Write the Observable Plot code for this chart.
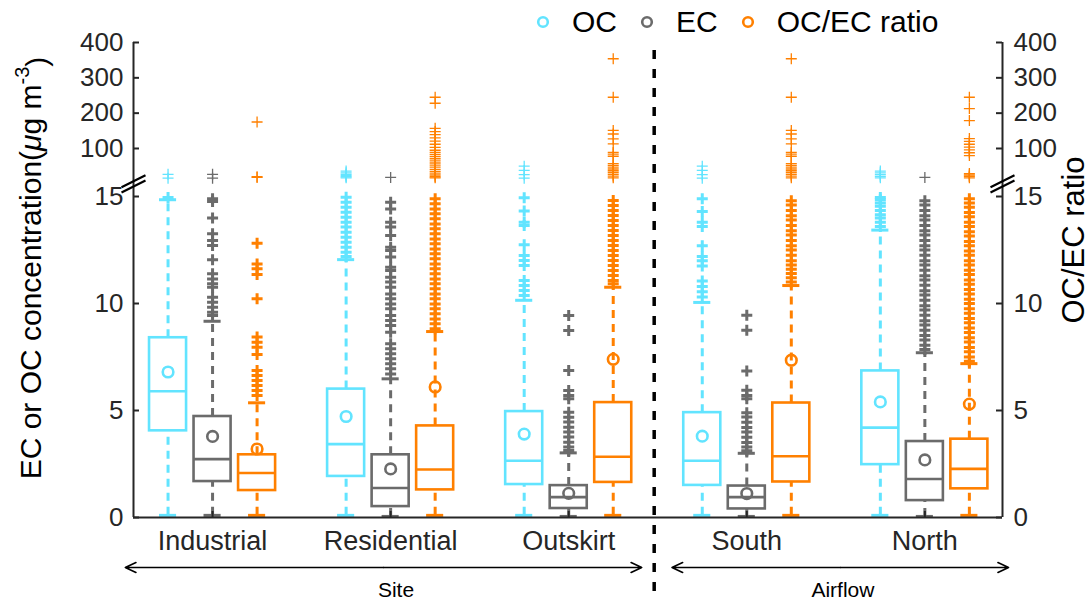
<!DOCTYPE html>
<html><head><meta charset="utf-8">
<script src="https://cdn.jsdelivr.net/npm/d3@7"></script>
<script src="https://cdn.jsdelivr.net/npm/@observablehq/plot@0.6"></script>
<style>
body{margin:0;background:#fff;font-family:"Liberation Sans",Arial,Helvetica,sans-serif;}
#wrap{position:relative;width:1091px;height:601px;}
#legend{position:absolute;top:0;left:536px;height:44px;display:flex;align-items:center;font-size:30px;color:#000;}
</style></head><body><div id="wrap"><div id="legend"></div></div>
<script>
// ---------------- data ----------------
const groups = ["Industrial", "Residential", "Outskirt", "South", "North"];
const seriesNames = ["OC", "EC", "OC/EC ratio"];
const seriesColors = ["#62e4ff", "#6b6b6b", "#ff8000"];

const leftTicksLower = [0, 5, 10, 15];
const leftTicksUpper = [100, 200, 300, 400];

// OC
const ocLow  = [0.1, 0.1, 0.1, 0.1, 0.1];
const ocQ1   = [4.05, 1.92, 1.54, 1.50, 2.47];
const ocMed  = [5.90, 3.43, 2.65, 2.65, 4.20];
const ocQ3   = [8.40, 6.00, 4.95, 4.90, 6.85];
const ocHigh = [14.85, 12.05, 10.15, 10.05, 13.43];
const ocMean = [6.80, 4.72, 3.90, 3.80, 5.40];
const ocOut = [
  [14.95, 16, 27],
  [12.2, 12.4, 12.63, 12.86, 13.1, 13.33, 13.57, 13.8, 14.03, 14.27, 14.5, 14.73, 14.97, 17, 20, 23, 27, 31, 36],
  [10.37, 10.61, 10.84, 11.08, 11.78, 12.01, 12.24, 12.74, 13.65, 13.8, 14.32, 14.94, 16, 26, 38, 50],
  [10.3, 10.55, 10.8, 11.05, 11.75, 12.0, 12.2, 12.7, 13.6, 13.8, 14.3, 14.9, 16, 26, 38, 50],
  [13.6, 13.8, 14.0, 14.15, 14.35, 14.55, 14.7, 14.85, 14.95, 17, 21, 26, 31, 36]
];
// EC
const ecLow  = [0.1, 0.05, 0.05, 0.05, 0.05];
const ecQ1   = [1.68, 0.51, 0.42, 0.40, 0.79];
const ecMed  = [2.73, 1.38, 0.95, 0.95, 1.80];
const ecQ3   = [4.72, 2.93, 1.49, 1.47, 3.55];
const ecHigh = [9.17, 6.48, 3.02, 3.00, 7.70];
const ecMean = [3.79, 2.27, 1.13, 1.12, 2.69];
const ecOut = [
  [9.44, 9.59, 9.83, 10.06, 10.29, 10.76, 10.92, 11.15, 11.39, 12.04, 12.71, 12.94, 13.26, 14.0, 14.77, 14.9, 16, 27],
  [6.71, 6.95, 7.18, 7.42, 7.65, 7.88, 8.12, 8.66, 8.97, 9.21, 9.44, 9.75, 9.98, 10.22, 10.45, 10.76, 11.0, 11.23, 11.54, 11.7, 12.17, 12.48, 12.63, 13.18, 13.57, 13.8, 14.42, 14.73, 18],
  [3.13, 3.29, 3.52, 3.76, 3.99, 4.22, 4.46, 4.69, 4.92, 5.55, 5.7, 5.94, 6.87, 8.74, 9.44],
  [3.12, 3.3, 3.5, 3.75, 4.0, 4.2, 4.45, 4.7, 4.9, 5.55, 5.7, 5.95, 6.85, 8.75, 9.45],
  [7.85, 8.05, 8.3, 8.5, 8.75, 9.0, 9.2, 9.45, 9.7, 9.9, 10.15, 10.4, 10.6, 10.85, 11.1, 11.3, 11.55, 11.8, 12.0, 12.25, 12.5, 12.7, 12.95, 13.2, 13.4, 13.65, 13.9, 14.1, 14.35, 14.6, 14.8, 18]
];
// OC/EC ratio
const rLow  = [0.1, 0.1, 0.1, 0.1, 0.1];
const rQ1   = [1.26, 1.29, 1.64, 1.66, 1.34];
const rMed  = [2.08, 2.24, 2.84, 2.86, 2.27];
const rQ3   = [2.93, 4.28, 5.37, 5.35, 3.66];
const rHigh = [5.36, 8.69, 10.76, 10.84, 7.19];
const rMean = [3.20, 6.10, 7.39, 7.35, 5.30];
const rOut = [
  [5.7, 5.93, 6.17, 6.4, 6.64, 6.87, 7.62, 7.96, 8.19, 8.43, 10.22, 11.36, 11.62, 11.85, 12.82, 18, 20, 175],
  [8.82, 9.05, 9.28, 9.52, 9.75, 9.98, 10.22, 10.45, 10.69, 10.92, 11.15, 11.39, 11.62, 11.85, 12.09, 12.32, 12.55, 12.79, 13.02, 13.26, 13.49, 13.72, 13.96, 14.19, 14.42, 14.66, 14.89, 17, 20, 25, 30, 35, 41, 47, 53, 59, 65, 71, 77, 83, 89, 95, 103, 112, 121, 130, 139, 148, 157, 228, 245],
  [10.92, 11.08, 11.31, 11.54, 11.78, 12.01, 12.24, 12.48, 12.71, 12.95, 13.18, 13.41, 13.65, 13.88, 14.11, 14.35, 14.58, 14.81, 17, 22, 27, 32, 37, 42, 47, 52, 57, 78, 84, 89, 113, 127, 141, 151, 245, 354],
  [11.0, 11.2, 11.4, 11.6, 11.8, 12.0, 12.25, 12.5, 12.7, 12.95, 13.2, 13.4, 13.65, 13.9, 14.1, 14.35, 14.6, 14.8, 17, 22, 27, 32, 37, 42, 47, 52, 57, 78, 84, 89, 113, 127, 141, 151, 245, 354],
  [7.3, 7.5, 7.75, 7.95, 8.2, 8.4, 8.65, 8.85, 9.1, 9.3, 9.55, 9.75, 10.0, 10.2, 10.45, 10.65, 10.9, 11.1, 11.35, 11.55, 11.8, 12.0, 12.25, 12.45, 12.7, 12.9, 13.15, 13.35, 13.6, 13.8, 14.05, 14.25, 14.5, 14.7, 14.9, 17, 21, 25, 29, 80, 88, 96, 104, 112, 120, 128, 179, 213, 245]
];

// sections under the axis
const sectionNames = ["Site", "Airflow"];
const sectionFrom  = [-0.49, 2.58];
const sectionTo    = [2.41, 4.47];
const sectionLabelX = [1.03, 3.54];
const dividerX = 2.48;

// ---------------- build ----------------
// broken axis: 0–15 linear below, 0–400 compressed above the break
const BREAK = 15, U0 = 15.593, K = 0.01651;
const yt = v => v <= BREAK ? v : U0 + K * v;
const yInv = u => u <= BREAK + 1e-6 ? u : Math.round((u - U0) / K);

const stats = [
  {low: ocLow, q1: ocQ1, med: ocMed, q3: ocQ3, high: ocHigh, mean: ocMean, out: ocOut},
  {low: ecLow, q1: ecQ1, med: ecMed, q3: ecQ3, high: ecHigh, mean: ecMean, out: ecOut},
  {low: rLow, q1: rQ1, med: rMed, q3: rQ3, high: rHigh, mean: rMean, out: rOut}
];
const xOff = [-0.25, 0, 0.25];
const BOXW = 0.104, CAPW = 0.048;
const rows = [];
stats.forEach((s, j) => groups.forEach((g, i) => rows.push({
  x: i + xOff[j], color: seriesColors[j],
  low: s.low[i], q1: s.q1[i], med: s.med[i], q3: s.q3[i], high: s.high[i], mean: s.mean[i], out: s.out[i]
})));
const outliers = rows.flatMap(r => r.out.map(v => ({x: r.x, v, y: yt(v), color: r.color})));

const xDomain = [-0.444, 4.436];
const leftTicks = [...leftTicksLower.map(yt), ...leftTicksUpper.map(yt)];
const sections = sectionNames.map((n, k) => ({name: n, from: sectionFrom[k], to: sectionTo[k], mid: (sectionFrom[k] + sectionTo[k]) / 2, lx: sectionLabelX[k]}));

const breakSymbol = {draw(ctx) { for (const o of [-2.6, 2.6]) { ctx.moveTo(-12, 6 + o); ctx.lineTo(12, -6 + o); } }};
const plusSymbol = {draw(ctx) { ctx.moveTo(-5.5, 0); ctx.lineTo(5.5, 0); ctx.moveTo(0, -5.5); ctx.lineTo(0, 5.5); }};
const AX = "#262626";
const font = "Liberation Sans, Arial, Helvetica, sans-serif";

const chart = Plot.plot({
  width: 1091, height: 601,
  marginLeft: 133, marginRight: 89, marginTop: 42, marginBottom: 84,
  x: {domain: xDomain, label: null},
  y: {domain: [0, yt(400)], label: null},
  color: {type: "identity"},
  style: {fontFamily: font, background: "white", overflow: "visible"},
  marks: [
    // divider between Site and Airflow
    Plot.ruleX([dividerX], {stroke: "black", strokeWidth: 3.5, strokeDasharray: "9,10", insetTop: 8, insetBottom: -84}),
    // whiskers
    Plot.ruleX(rows, {x: "x", y1: "q3", y2: "high", stroke: "color", strokeWidth: 3, strokeDasharray: "8,6"}),
    Plot.ruleX(rows, {x: "x", y1: "low", y2: "q1", stroke: "color", strokeWidth: 3, strokeDasharray: "8,6"}),
    Plot.ruleY(rows, {y: "high", x1: d => d.x - CAPW, x2: d => d.x + CAPW, stroke: "color", strokeWidth: 3}),
    Plot.ruleY(rows, {y: "low", x1: d => d.x - CAPW, x2: d => d.x + CAPW, stroke: "color", strokeWidth: 3}),
    // boxes
    Plot.rect(rows, {x1: d => d.x - BOXW, x2: d => d.x + BOXW, y1: "q1", y2: "q3", fill: "none", stroke: "color", strokeWidth: 2.6}),
    Plot.ruleY(rows, {y: "med", x1: d => d.x - BOXW, x2: d => d.x + BOXW, stroke: "color", strokeWidth: 2.6}),
    // means
    Plot.dot(rows, {x: "x", y: "mean", r: 5.3, stroke: "color", strokeWidth: 2.6, fill: "none"}),
    // outliers
    Plot.dot(outliers.filter(d => d.v <= BREAK), {x: "x", y: "y", symbol: plusSymbol, stroke: "color", strokeWidth: 3}),
    Plot.dot(outliers.filter(d => d.v > BREAK), {x: "x", y: "y", symbol: plusSymbol, stroke: "color", strokeWidth: 1.3}),
    // axes lines
    Plot.ruleX([xDomain[0], xDomain[1]], {stroke: AX, strokeWidth: 2}),
    Plot.ruleY([0], {stroke: AX, strokeWidth: 2}),
    Plot.tickY(leftTicks, {y: d => d, insetRight: 869 - 6, stroke: AX, strokeWidth: 2}),
    Plot.tickY(leftTicks, {y: d => d, insetLeft: 869 - 6, stroke: AX, strokeWidth: 2}),
    Plot.tickX(d3.range(groups.length), {x: d => d, insetTop: 475 - 6, stroke: AX, strokeWidth: 2}),
    Plot.dot(xDomain, {x: d => d, y: U0, symbol: breakSymbol, stroke: "black", strokeWidth: 2.2}),
    Plot.axisY(leftTicks, {anchor: "left", tickSize: 0, tickPadding: 10, tickFormat: yInv, fontSize: 26, color: AX, label: null}),
    Plot.axisY(leftTicks, {anchor: "right", tickSize: 0, tickPadding: 11, tickFormat: yInv, fontSize: 26, color: AX, label: null}),
    Plot.axisX(d3.range(groups.length), {anchor: "bottom", tickSize: 0, tickPadding: 13, tickFormat: i => groups[i], fontSize: 27, color: AX, label: null}),
    // titles
    Plot.text(["__YTITLE__"], {frameAnchor: "left", textAnchor: "middle", lineAnchor: "middle", rotate: -90, dx: -102, dy: -12, fontSize: 30, fill: "black"}),
    Plot.text(["OC/EC ratio"], {frameAnchor: "right", textAnchor: "middle", lineAnchor: "middle", rotate: -90, dx: 72, dy: -40, fontSize: 31, fill: "black"}),
    // section arrows + labels
    Plot.arrow(sections, {x1: "mid", x2: "from", y1: 0, y2: 0, dy: 50, stroke: "black", strokeWidth: 1.6, headLength: 11, headAngle: 50}),
    Plot.arrow(sections, {x1: "mid", x2: "to", y1: 0, y2: 0, dy: 50, stroke: "black", strokeWidth: 1.6, headLength: 11, headAngle: 50}),
    Plot.text(sections, {x: "lx", y: 0, dy: 73, text: "name", fontSize: 21, fill: "black"})
  ]
});

// axis title with italic mu and superscript
d3.select(chart).selectAll("text").filter(function() { return this.textContent === "__YTITLE__"; }).each(function() {
  const t = d3.select(this).text("");
  t.append("tspan").text("EC or OC concentration(");
  t.append("tspan").attr("font-style", "italic").text("μ");
  t.append("tspan").text("g m");
  t.append("tspan").attr("dy", "-0.6em").attr("font-size", "20px").text("-3");
  t.append("tspan").attr("dy", "0.6em").text(")");
});

document.getElementById("wrap").appendChild(chart);
d3.select(chart).style("position", "absolute").style("left", "0").style("top", "0").lower();

const legend = d3.select("#legend");
seriesNames.forEach((name, j) => {
  const item = legend.append("div").style("display", "flex").style("align-items", "center").style("margin-left", j ? "23px" : "0px");
  item.append("svg").attr("width", 14).attr("height", 14)
    .append("circle").attr("cx", 7).attr("cy", 7).attr("r", 4.8)
    .attr("fill", "none").attr("stroke", seriesColors[j]).attr("stroke-width", 2.6);
  item.append("span").style("margin-left", "22px").text(name);
});
</script></body></html>
